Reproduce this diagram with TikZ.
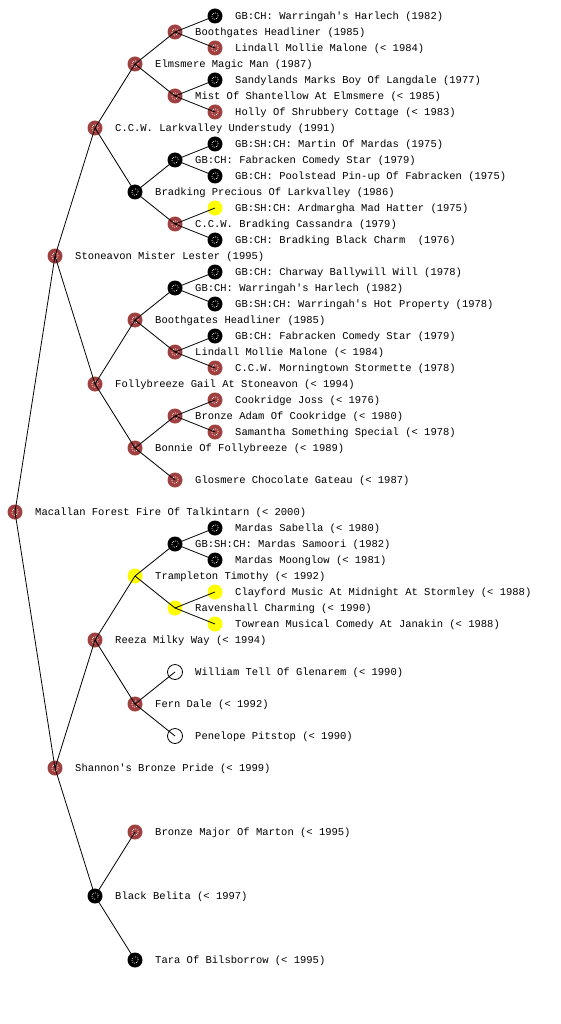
\documentclass[tikz,border=0pt]{standalone}
\usepackage{fontspec}
\newfontfamily\pedfont{Liberation Mono}
\definecolor{brn}{RGB}{160,64,64}
\definecolor{ylw}{RGB}{255,255,0}
\tikzset{
  pnode/.style={circle,minimum size=15pt,inner sep=0pt,draw=none},
  dotring/.style={path picture={\draw[white,line width=0.7pt,dash pattern=on 0.8pt off 1.2pt] (path picture bounding box.center) circle[radius=3.2pt];}},
  brnnode/.style={pnode,fill=brn,dotring},
  blknode/.style={pnode,fill=black,dotring},
  ylwnode/.style={pnode,fill=ylw},
  whtnode/.style={pnode,fill=white,draw=black,line width=0.8pt},
  lbl/.style={anchor=west,inner sep=0pt,font=\pedfont\fontsize{10.5}{12}\selectfont},
  edge/.style={line width=0.8pt,black}
}
\newcommand\pn[5]{\node[#4] (#1) at (#2,#3) {}; \node[lbl] (#1t) at (#2+20,#3+0.7) {#5};}
\begin{document}
\begin{tikzpicture}[x=1pt,y=-1pt]
\useasboundingbox (0,0) rectangle (560,1024);
\fill[white] (0,0) rectangle (560,1024);
\pn{mac}{15}{512}{brnnode}{Macallan Forest Fire Of Talkintarn (< 2000)}
\pn{sto}{55}{256}{brnnode}{Stoneavon Mister Lester (1995)}
\pn{sha}{55}{768}{brnnode}{Shannon's Bronze Pride (< 1999)}
\pn{lar}{95}{128}{brnnode}{C.C.W. Larkvalley Understudy (1991)}
\pn{fol}{95}{384}{brnnode}{Follybreeze Gail At Stoneavon (< 1994)}
\pn{ree}{95}{640}{brnnode}{Reeza Milky Way (< 1994)}
\pn{bel}{95}{896}{blknode}{Black Belita (< 1997)}
\pn{elm}{135}{64}{brnnode}{Elmsmere Magic Man (1987)}
\pn{bpr}{135}{192}{blknode}{Bradking Precious Of Larkvalley (1986)}
\pn{boo}{135}{320}{brnnode}{Boothgates Headliner (1985)}
\pn{bon}{135}{448}{brnnode}{Bonnie Of Follybreeze (< 1989)}
\pn{tra}{135}{576}{ylwnode}{Trampleton Timothy (< 1992)}
\pn{fer}{135}{704}{brnnode}{Fern Dale (< 1992)}
\pn{bma}{135}{832}{brnnode}{Bronze Major Of Marton (< 1995)}
\pn{tar}{135}{960}{blknode}{Tara Of Bilsborrow (< 1995)}
\pn{boa}{175}{32}{brnnode}{Boothgates Headliner (1985)}
\pn{mis}{175}{96}{brnnode}{Mist Of Shantellow At Elmsmere (< 1985)}
\pn{fab}{175}{160}{blknode}{GB:CH: Fabracken Comedy Star (1979)}
\pn{cas}{175}{224}{brnnode}{C.C.W. Bradking Cassandra (1979)}
\pn{wab}{175}{288}{blknode}{GB:CH: Warringah's Harlech (1982)}
\pn{lib}{175}{352}{brnnode}{Lindall Mollie Malone (< 1984)}
\pn{bad}{175}{416}{brnnode}{Bronze Adam Of Cookridge (< 1980)}
\pn{glo}{175}{480}{brnnode}{Glosmere Chocolate Gateau (< 1987)}
\pn{sam}{175}{544}{blknode}{GB:SH:CH: Mardas Samoori (1982)}
\pn{rav}{175}{608}{ylwnode}{Ravenshall Charming (< 1990)}
\pn{wil}{175}{672}{whtnode}{William Tell Of Glenarem (< 1990)}
\pn{pen}{175}{736}{whtnode}{Penelope Pitstop (< 1990)}
\pn{waa}{215}{16}{blknode}{GB:CH: Warringah's Harlech (1982)}
\pn{lia}{215}{48}{brnnode}{Lindall Mollie Malone (< 1984)}
\pn{san}{215}{80}{blknode}{Sandylands Marks Boy Of Langdale (1977)}
\pn{hol}{215}{112}{brnnode}{Holly Of Shrubbery Cottage (< 1983)}
\pn{mar}{215}{144}{blknode}{GB:SH:CH: Martin Of Mardas (1975)}
\pn{poo}{215}{176}{blknode}{GB:CH: Poolstead Pin-up Of Fabracken (1975)}
\pn{ard}{215}{208}{ylwnode}{GB:SH:CH: Ardmargha Mad Hatter (1975)}
\pn{bch}{215}{240}{blknode}{GB:CH: Bradking Black Charm \ (1976)}
\pn{cha}{215}{272}{blknode}{GB:CH: Charway Ballywill Will (1978)}
\pn{hot}{215}{304}{blknode}{GB:SH:CH: Warringah's Hot Property (1978)}
\pn{fac}{215}{336}{blknode}{GB:CH: Fabracken Comedy Star (1979)}
\pn{mor}{215}{368}{brnnode}{C.C.W. Morningtown Stormette (1978)}
\pn{coo}{215}{400}{brnnode}{Cookridge Joss (< 1976)}
\pn{smt}{215}{432}{brnnode}{Samantha Something Special (< 1978)}
\pn{sab}{215}{528}{blknode}{Mardas Sabella (< 1980)}
\pn{moo}{215}{560}{blknode}{Mardas Moonglow (< 1981)}
\pn{cla}{215}{592}{ylwnode}{Clayford Music At Midnight At Stormley (< 1988)}
\pn{tow}{215}{624}{ylwnode}{Towrean Musical Comedy At Janakin (< 1988)}
\foreach \p/\c in {mac/sto,mac/sha,sto/lar,sto/fol,lar/elm,lar/bpr,elm/boa,elm/mis,boa/waa,boa/lia,mis/san,mis/hol,bpr/fab,bpr/cas,fab/mar,fab/poo,cas/ard,cas/bch,fol/boo,fol/bon,boo/wab,boo/lib,wab/cha,wab/hot,lib/fac,lib/mor,bon/bad,bon/glo,bad/coo,bad/smt,sha/ree,sha/bel,ree/tra,ree/fer,tra/sam,tra/rav,sam/sab,sam/moo,rav/cla,rav/tow,fer/wil,fer/pen,bel/bma,bel/tar}
  \draw[edge] (\p.center) -- (\c.center);
\end{tikzpicture}
\end{document}
